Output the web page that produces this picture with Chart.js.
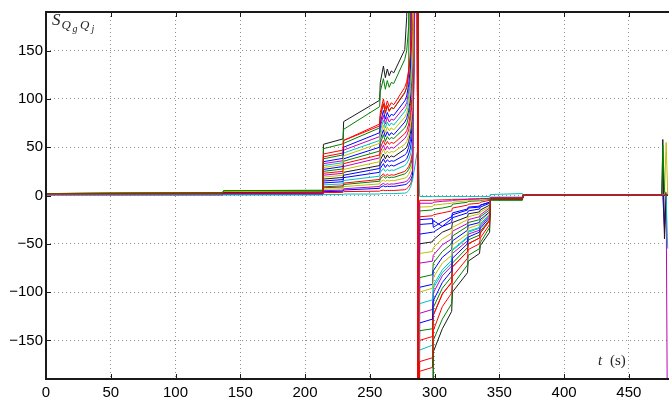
<!DOCTYPE html>
<html><head><meta charset="utf-8">
<script src="https://cdn.jsdelivr.net/npm/chart.js@4/dist/chart.umd.min.js"></script>
<style>html,body{margin:0;padding:0;background:#fff}#wrap{width:669px;height:410px}</style>
</head><body><div id="wrap"><canvas id="c" width="669" height="410"></canvas></div>
<script>
// time samples (s) shared by every series
const times = [0, 136.5, 137, 213.8, 214.2, 229.3, 229.8, 257.6, 258.1, 260.5, 262, 263.5, 265, 266.5, 268.5, 277,
  278.5, 280, 281.5, 283, 286.6, 287.2, 288.5, 298.4, 299, 306, 313.2, 313.8, 325.4, 326, 334.7, 335.3, 342.5, 343.1,
  367.8, 368.4, 475.5, 476.2, 477.5, 478.8, 480];
const xTicks = [0, 50, 100, 150, 200, 250, 300, 350, 400, 450];
const yTicks = [-150, -100, -50, 0, 50, 100, 150];

const sK1 = [2, 2.5, 3, 3.5, 53, 58.6, 76.5, 98.6, 117, 134, 122, 131, 124, 129, 127, 151, 185, 400, 400, 400, 400, -400,
  -400, -400, -162, -138, -120, -100, -80, -68, -60, -52, -38, -4, -4, 1, 1, 58, -45, 0, 0];
const sG1 = [2, 3, 5, 5.5, 48.5, 53.5, 68.5, 92, 107.5, 121, 110, 119, 112, 117, 116, 141, 150, 175, 400, 400, 400, -400,
  -400, -400, -150, -128, -112, -93, -72, -62, -55, -49, -33, -3, -3, 1, 1, 52, 5, 1, 1];
const sR1 = [1.5, 2, 2.5, 3, 43, 47, 57, 72, 82, 95, 85, 93, 87, 91, 90, 107, 112, 125, 150, 400, 400, -400,
  -172, -168, -140, -115, -101, -84, -65, -56, -50, -44, -30, -4, -4, 0.5, 0.5, 0.5, 0.5, 0.5, 0.5];
const sR2 = [1, 1.5, 2, 2.5, 40, 44, 57, 74, 86, 100, 90, 98, 92, 96, 94, 112, 118, 130, 145, 170, 400, -400,
  -150, -146, -124, -102, -90, -74, -58, -50, -44, -39, -26, -3, -3, 0, 0, 0, 0, 0, 0];
const sG2 = [2, 3, 4.5, 5, 38, 42, 54, 70, 82, 95, 86, 93, 88, 91, 90, 106, 112, 128, 400, 400, 400, -400,
  -140, -138, -116, -96, -84, -70, -54, -46, -41, -37, -25, -3, -3, 1, 1, 1, 1, 1, 1];
const sB1 = [1, 1.5, 2, 2.5, 35, 38.5, 50, 65, 75, 88, 79, 86, 81, 84, 83, 98, 103, 115, 135, 400, 400, -400,
  -132, -128, -109, -90, -78, -65, -50, -43, -38, -34, -23, -3, -3, 0, 0, 0, 0, 0, 0];
const sM1 = [1, 1.5, 2, 2.5, 33, 36, 47, 61, 71, 83, 74, 81, 76, 79, 78, 92, 96, 108, 125, 400, 400, -400,
  -122, -118, -101, -83, -73, -60, -47, -40, -36, -32, -21, -3, -3, 0, 0, 0, 0, 0, 0];
const sC1 = [1, 1.5, 2, 2, 31, 34, 44, 57, 67, 78, 70, 76, 72, 75, 73, 87, 91, 102, 118, 400, 400, -400,
  -112, -108, -93, -77, -67, -56, -43, -37, -33, -29, -20, -2, -2, 1, 1, 1, 1, 1, 1];
const sY1 = [2, 3, 4, 4.5, 29, 32, 41, 54, 62, 73, 65, 71, 67, 70, 68, 81, 85, 95, 110, 140, 400, -400,
  -100, -96, -85, -70, -62, -51, -40, -34, -30, -27, -18, -2, -2, 1, 1, 1, 1, 55, 1];
const sB2 = [1, 1.5, 2, 2, 27, 30, 38, 50, 58, 68, 61, 66, 62, 65, 63, 76, 80, 88, 102, 130, 400, -400,
  -95, -92, -78, -64, -56, -47, -36, -31, -28, -25, -17, -3, -3, 0, 0, 0, -33, 0, 0];
const sG3 = [2, 3, 4.5, 5, 25, 27.5, 35.5, 46, 54, 63, 56, 61, 58, 60, 59, 70, 74, 82, 95, 400, 400, -400,
  -85, -82, -70, -58, -50, -42, -32, -28, -25, -22, -15, -4, -4, 1, 1, 1, 1, 1, 1];
const sR3 = [1, 1.5, 2, 2, 23, 25, 33, 42, 49, 57, 52, 56, 53, 55, 54, 64, 67, 74, 86, 110, 400, -400,
  -182, -178, -124, -102, -90, -74, -58, -50, -44, -39, -26, -3, -3, 0, 0, 0, 0, 0, 0];
const sM2 = [1, 1.5, 2, 2, 21, 23, 30, 39, 45, 52, 47, 51, 48, 50, 49, 59, 62, 68, 80, 100, 400, -400,
  -70, -68, -62, -51, -45, -37, -29, -25, -22, -20, -13, -3, -3, 0, 0, 32, -39, 0, 0];
const sY2 = [2, 2.5, 4, 4.5, 19, 21, 27, 35, 41, 48, 43, 46, 44, 45.5, 45, 53, 56, 62, 72, 90, 400, -400,
  -60, -58, -54, -45, -39, -33, -25, -22, -19, -17, -12, -2, -2, 1, 1, 1, 1, 1, 1];
const sK2 = [2, 2.5, 3, 3, 17, 18.7, 24, 31, 37, 43, 38, 42, 39, 41, 40, 48, 50, 56, 66, 85, 400, -400,
  -50, -48, -46, -38, -34, -28, -22, -19, -17, -15, -10, -2, -2, 0, 0, 0, 0, 0, 0];
const sB3 = [1, 1.5, 2, 2, 15, 16.5, 21, 28, 32, 38, 34, 37, 35, 36, 35.5, 42, 44, 50, 58, 75, 400, -400,
  -40, -38, -38, -32, -28, -23, -18, -16, -14, -12, -8, -3, -3, 0, 0, 0, 0, 0, 0];
const sB4 = [1, 1.5, 2, 2, 13, 14.3, 18.5, 24, 28, 33, 29, 32, 30, 31.5, 30.5, 36, 38, 43, 50, 65, 400, -400,
  -30, -29, -26, -32, -24, -20, -15, -13, -12, -10, -7, -3, -3, 0, 0, 0, 0, 0, 0];
const sC2 = [1, 1.5, 1.5, 2, 11, 12, 15.5, 20, 24, 28, 25, 27, 25.5, 26.5, 26, 31, 33, 37, 43, 55, 400, -400,
  -160, -155, -96, -80, -70, -57, -44, -38, -34, -30, -20, -2, -2, 1, 1, 1, 1, 1, 1];
const sR4 = [1, 1, 1.5, 1.5, 9, 10, 12.8, 16.6, 19.4, 22.5, 20, 22, 20.5, 21.5, 21, 25, 27, 30, 35, 45, 400, -400,
  -22, -21, -20, -18, -16, -13, -10, -9, -8, -7, -5, -4, -4, 0, 0, 0, 0, 0, 0];
const sG4 = [2, 2.5, 4, 4, 8, 8.8, 11.4, 14.8, 17.2, 20, 18, 19.5, 18.3, 19, 18.8, 22.4, 24, 27, 31, 40, 400, -400,
  -16, -15, -14, -13, -11, -9, -7, -6, -5.5, -5, -4, -5, -5, 0, 0, 0, 0, 0, 0];
const sY3 = [2, 2, 3, 3, 6.5, 7, 9.2, 12, 14, 16, 14.6, 15.8, 15, 15.5, 15.3, 18, 19, 22, 26, 33, 400, -400,
  -12, -11.5, -10, -9, -8, -7, -5.5, -5, -4.5, -4, -3.5, -2, -2, 1, 1, 1, 1, 1, 1];
const sM3 = [1, 1, 1.5, 1.5, 5, 5.5, 7, 9.3, 10.8, 12.5, 11.2, 12.2, 11.5, 12, 11.8, 14, 15, 17, 20, 26, 400, -400,
  -8, -8, -7, -6, -5.5, -5, -4, -4, -3.5, -3, -3, -2, -2, 0, 0, 0, 0, 3, -300];
const sB5 = [1, 1, 1.5, 1.5, 4, 4.4, 5.7, 7.4, 8.6, 10, 9, 9.7, 9.2, 9.6, 9.4, 11.2, 12, 14, 16, 21, 400, -400,
  -25, -24, -33, -27, -22, -18, -14, -12, -11, -10, -7, -3, -3, 0, 0, 0, 0, 0, 0];
const sR5 = [0.5, 0.5, 1, 1, 3, 3.2, 4, 4.5, 5, 5.5, 5, 5.3, 5.1, 5.3, 5.2, 6, 7, 9, 12, 18, 400, -400,
  -5, -5, -4.8, -4.5, -4.3, -4, -3.8, -3.6, -3.4, -3.2, -3, -3, -3, 0.5, 0.5, 0.5, 0.5, 0.5, 0.5];
const sC3 = [0.5, 0.5, 0.5, 0.5, 1, 1, 1.5, 1.5, 2, 2, 2, 2, 2, 2, 2, 2.5, 3, 5, 9, 16, 45, 62,
  -1, -1, -1, -1, -1, -1, -1, -1, -1, -1, -1, 1, 2, 1, 1, 1, 1, 0, -55];

const K = '#1a1a1a', G = '#008000', R = '#ff0000', B = '#0000ff', M = '#bf00bf', C = '#00bfbf', Y = '#bfbf00';
// earlier entries are drawn on top
const seriesList = [
  [sR1, R], [sG1, G], [sC3, C], [sK1, K], [sM3, M], [sY1, Y], [sB1, B],
  [sR2, R], [sG2, G], [sC1, C], [sM1, M], [sY2, Y], [sK2, K], [sB2, B],
  [sR3, R], [sG3, G], [sC2, C], [sM2, M], [sY3, Y], [sB3, B],
  [sR4, R], [sG4, G], [sB4, B], [sB5, B], [sR5, R]
];

const datasets = seriesList.map(([vals, col]) => ({
  data: times.map((t, i) => ({ x: t, y: vals[i] })),
  borderColor: col, borderWidth: 1, pointRadius: 0, tension: 0, fill: false
}));

const minus = v => (v < 0 ? '\u2212' + Math.abs(v) : String(v));

const frame = {
  id: 'frame',
  afterDatasetsDraw(chart) {
    const { ctx, chartArea: a, scales: { x, y } } = chart;
    ctx.save();
    ctx.strokeStyle = '#1a1a1a';
    ctx.lineWidth = 1;
    ctx.beginPath();
    xTicks.forEach(v => {
      const px = Math.round(x.getPixelForValue(v)) + 0.5;
      ctx.moveTo(px, a.bottom); ctx.lineTo(px, a.bottom - 5);
      ctx.moveTo(px, a.top); ctx.lineTo(px, a.top + 5);
    });
    yTicks.forEach(v => {
      const py = Math.round(y.getPixelForValue(v)) + 0.5;
      ctx.moveTo(a.left, py); ctx.lineTo(a.left + 5, py);
    });
    ctx.stroke();
    ctx.lineWidth = 2;
    ctx.beginPath();
    ctx.moveTo(a.right + 2, a.top); ctx.lineTo(a.left, a.top); ctx.lineTo(a.left, a.bottom); ctx.lineTo(a.right + 2, a.bottom);
    ctx.stroke();
    // labels
    ctx.fillStyle = '#262626';
    ctx.textBaseline = 'alphabetic';
    ctx.font = 'italic 17px "Liberation Serif", serif';
    ctx.fillText('S', 52, 25);
    ctx.font = 'italic 13px "Liberation Serif", serif';
    ctx.fillText('Q', 61.5, 29);
    ctx.fillText('Q', 80, 29);
    ctx.font = 'italic 10px "Liberation Serif", serif';
    ctx.fillText('g', 72.5, 32);
    ctx.fillText('j', 91.5, 32);
    ctx.font = 'italic 15px "Liberation Serif", serif';
    ctx.fillText('t', 598, 365);
    ctx.font = '15px "Liberation Serif", serif';
    ctx.fillText('(s)', 610, 365);
    ctx.restore();
  }
};

new Chart(document.getElementById('c'), {
  type: 'line',
  data: { datasets },
  plugins: [frame],
  options: {
    responsive: false, animation: false, devicePixelRatio: 1,
    layout: { padding: { top: 5, right: 0, left: 0, bottom: 0 } },
    plugins: { legend: { display: false }, tooltip: { enabled: false } },
    scales: {
      x: {
        type: 'linear', min: 0, max: 481,
        afterFit: s => { s.height = 31; },
        afterBuildTicks: s => { s.ticks = xTicks.map(v => ({ value: v })); },
        ticks: { stepSize: 50, includeBounds: false, autoSkip: false, maxRotation: 0, padding: 5,
          color: '#000', font: { family: '"Liberation Sans", Arial, sans-serif', size: 15 } },
        grid: { color: '#909090', lineWidth: 1, drawTicks: false },
        border: { display: false, dash: [1, 3] }
      },
      y: {
        type: 'linear', min: -190, max: 190,
        afterFit: s => { s.width = 46; },
        afterBuildTicks: s => { s.ticks = yTicks.map(v => ({ value: v })); },
        ticks: { stepSize: 50, includeBounds: false, autoSkip: false, padding: 3, callback: v => minus(v),
          color: '#000', font: { family: '"Liberation Sans", Arial, sans-serif', size: 15 } },
        grid: { color: '#909090', lineWidth: 1, drawTicks: false },
        border: { display: false, dash: [1, 3] }
      }
    }
  }
});
</script>
</body></html>
